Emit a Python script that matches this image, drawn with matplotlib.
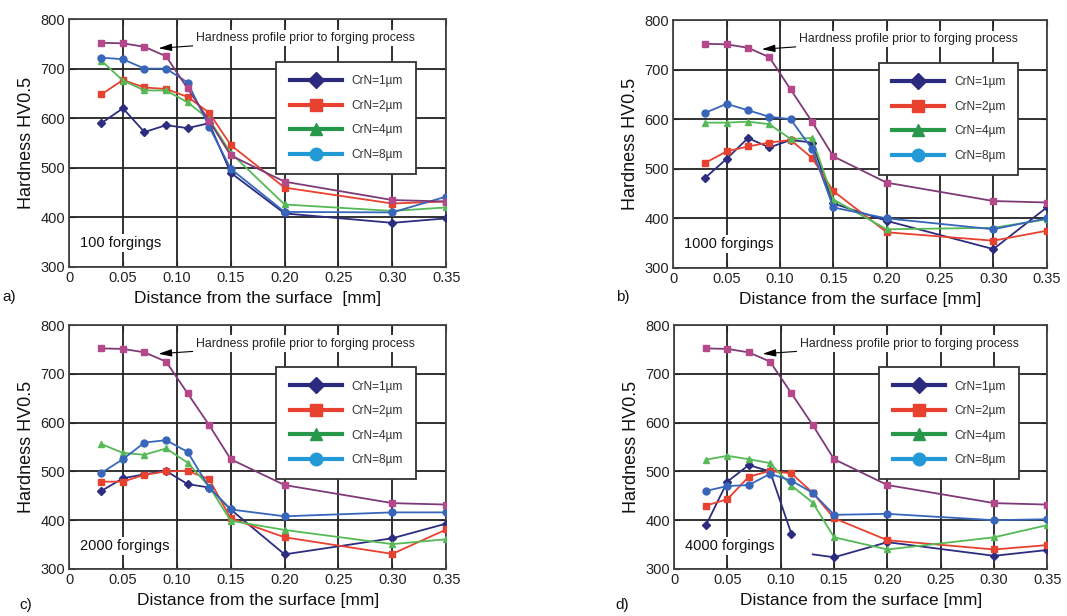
import matplotlib
matplotlib.use('Agg')
import matplotlib.pyplot as plt
from matplotlib.lines import Line2D
import numpy as np

plt.rcParams['font.family'] = ['Liberation Sans', 'DejaVu Sans']

# measured depths [mm]
depth = [0.03, 0.05, 0.07, 0.09, 0.11, 0.13, 0.15, 0.20, 0.30, 0.35]

# hardness before forging (same in every panel)
prior = [752, 751, 744, 725, 660, 595, 525, 472, 435, 432]

# 100 forgings
a_1um = [590, 620, 572, 586, 580, 590, 490, 408, 389, 398]
a_2um = [648, 677, 662, 659, 643, 611, 546, 460, 428, 432]
a_4um = [716, 676, 656, 656, 632, 598, 530, 426, 413, 420]
a_8um = [722, 719, 700, 700, 672, 583, 498, 411, 410, 442]

# 1000 forgings
b_1um = [482, 520, 562, 543, 558, 553, 430, 395, 338, 422]
b_2um = [512, 535, 545, 553, 558, 522, 455, 372, 355, 375]
b_4um = [593, 593, 595, 590, 560, 562, 438, 378, 381, 398]
b_8um = [613, 631, 618, 605, 600, 540, 422, 400, 378, 400]

# 2000 forgings
c_1um = [460, 486, 494, 501, 474, 467, 422, 330, 363, 393]
c_2um = [479, 479, 493, 500, 501, 484, 404, 365, 331, 381]
c_4um = [556, 538, 534, 547, 518, 469, 399, 380, 351, 361]
c_8um = [497, 525, 559, 564, 540, 467, 422, 408, 416, 416]

# 4000 forgings (1um curve is broken after 0.11 mm)
d_1um = [390, 479, 513, 500, 372, 330, 324, 355, 327, 339]
d_2um = [430, 443, 489, 501, 496, 456, 404, 359, 340, 349]
d_4um = [524, 532, 525, 517, 471, 436, 365, 340, 365, 390]
d_8um = [460, 470, 472, 495, 481, 456, 411, 413, 400, 402]

panel_tags = ['a)', 'b)', 'c)', 'd)']
forgings = ['100 forgings', '1000 forgings', '2000 forgings', '4000 forgings']
xlabels = ['Distance from the surface  [mm]', 'Distance from the surface [mm]',
           'Distance from the surface [mm]', 'Distance from the surface [mm]']
series_labels = ['CrN=1\u00b5m', 'CrN=2\u00b5m', 'CrN=4\u00b5m', 'CrN=8\u00b5m']
xticks = [0, 0.05, 0.10, 0.15, 0.20, 0.25, 0.30, 0.35]
xtick_labels = ['0', '0.05', '0.10', '0.15', '0.20', '0.25', '0.30', '0.35']
yticks = [300, 400, 500, 600, 700, 800]

panels = [
    [a_1um, a_2um, a_4um, a_8um],
    [b_1um, b_2um, b_4um, b_8um],
    [c_1um, c_2um, c_4um, c_8um],
    [d_1um, d_2um, d_4um, d_8um],
]

line_colors = ['#2C2C80', '#E8412F', '#55B955', '#3866BA']
legend_colors = ['#2C2A7E', '#E8412F', '#27984A', '#2399D6']
markers = ['D', 's', '^', 'o']
msizes = [4, 5, 5, 5]
prior_line = '#7E3A78'
prior_marker = '#B5488A'

# axes rectangles [left, bottom, width, height] in figure fractions
rects = [
    [0.0647, 0.5666, 0.3535, 0.4025],
    [0.6310, 0.5650, 0.3500, 0.4025],
    [0.0647, 0.0763, 0.3535, 0.3961],
    [0.6317, 0.0763, 0.3500, 0.3961],
]
tag_pos = [(0.002, 0.518), (0.577, 0.518), (0.018, 0.018), (0.577, 0.018)]

fig = plt.figure(figsize=(10.67, 6.16), dpi=100)

for i, rect in enumerate(rects):
    ax = fig.add_axes(rect)
    ax.set_xlim(0, 0.35)
    ax.set_ylim(300, 800)
    ax.set_xticks(xticks)
    ax.set_xticklabels(xtick_labels)
    ax.set_yticks(yticks)
    ax.grid(True, color='#222222', lw=1.3)
    ax.set_axisbelow(True)
    for sp in ax.spines.values():
        sp.set_color('#444444')
        sp.set_linewidth(1.3)
    ax.tick_params(direction='in', length=4, labelsize=10.5, colors='#222222',
                   top=True, right=True, pad=3)

    for k, vals in enumerate(panels[i]):
        if i == 3 and k == 0:
            # curve interrupted between 0.11 and 0.13 mm
            ax.plot(depth[:5], vals[:5], color=line_colors[k], lw=1.3,
                    marker=markers[k], ms=msizes[k], zorder=3)
            ax.plot(depth[5:], vals[5:], color=line_colors[k], lw=1.3,
                    marker=markers[k], ms=msizes[k], markevery=[1, 2, 3, 4], zorder=3)
        else:
            ax.plot(depth, vals, color=line_colors[k], lw=1.3,
                    marker=markers[k], ms=msizes[k], zorder=3)

    ax.plot(depth, prior, color=prior_line, lw=1.3, marker='s', ms=5,
            mfc=prior_marker, mec=prior_marker, zorder=4)

    ax.annotate('Hardness profile prior to forging process', xy=(0.083, 741),
                xytext=(0.118, 762), fontsize=8.8, color='#222222',
                va='center', ha='left',
                bbox=dict(fc='white', ec='none', pad=1.5),
                arrowprops=dict(arrowstyle='-|>,head_length=0.9,head_width=0.25',
                                color='black', lw=0.8, shrinkA=1, shrinkB=0),
                zorder=5)

    ax.text(0.010, 348, forgings[i], fontsize=10.5, color='#111111',
            va='center', ha='left',
            bbox=dict(fc='white', ec='none', pad=1.5), zorder=5)

    handles = [Line2D([], [], color=legend_colors[k], lw=3, marker=markers[k],
                      ms=9 if k else 8) for k in range(4)]
    leg = ax.legend(handles, series_labels, loc='upper left',
                    bbox_to_anchor=(0.55, 0.826), borderaxespad=0, fontsize=8.6,
                    handlelength=4.4, handletextpad=0.8, labelspacing=1.05,
                    borderpad=1.1, fancybox=False, framealpha=1,
                    edgecolor='#333333')
    leg.get_frame().set_linewidth(1.3)
    leg.set_zorder(6)
    for t in leg.get_texts():
        t.set_color('#333333')

    ax.set_xlabel(xlabels[i], fontsize=12.5, labelpad=4, color='#111111')
    ax.set_ylabel('Hardness HV0.5', fontsize=13, labelpad=4, color='#111111')

    fig.text(tag_pos[i][0], tag_pos[i][1], panel_tags[i], fontsize=11,
             color='#111111', ha='left', va='center')

plt.savefig('out.png', dpi=100, facecolor='#FFFFFF')
plt.close()
